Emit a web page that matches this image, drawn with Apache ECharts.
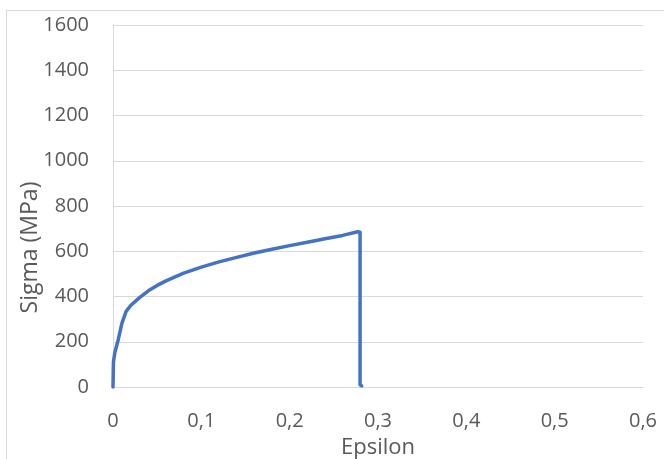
<!DOCTYPE html>
<html><head><meta charset="utf-8">
<script src="https://cdn.jsdelivr.net/npm/echarts@6/dist/echarts.min.js"></script>
<style>
html,body{margin:0;padding:0;background:#fff;overflow:hidden;}
#frame{position:absolute;left:6px;top:10px;width:700px;height:500px;border:1px solid #d9d9d9;box-sizing:border-box;}
#chart{position:absolute;left:0;top:0;width:664px;height:459px;}
</style></head>
<body>
<div id="frame"></div>
<div id="chart"></div>
<script>
const epsilon = [0, 0.0005, 0.002, 0.006, 0.010, 0.0147, 0.02, 0.03, 0.04, 0.05, 0.06, 0.08, 0.10, 0.12, 0.14, 0.16, 0.18, 0.20, 0.22, 0.24, 0.26, 0.277, 0.2797, 0.2797, 0.2815];
const sigma   = [0, 110, 150, 210, 280, 333, 360, 395, 425, 449, 469, 503, 530, 553, 573, 592, 609, 625, 640, 655, 670, 686, 684, 10, 5];
const xTicks = [0, 0.1, 0.2, 0.3, 0.4, 0.5, 0.6];
const yTicks = [0, 200, 400, 600, 800, 1000, 1200, 1400, 1600];
const xTitle = 'Epsilon';
const yTitle = 'Sigma (MPa)';

const FONT = '"Open Sans", "Noto Sans", sans-serif';
const chart = echarts.init(document.getElementById('chart'), null, {renderer: 'canvas'});
chart.setOption({
  backgroundColor: 'transparent',
  animation: false,
  grid: {left: 113, top: 25, right: 21, bottom: 72, containLabel: false, outerBoundsMode: 'none'},
  xAxis: {
    type: 'value', min: xTicks[0], max: xTicks[xTicks.length - 1], interval: 0.1,
    axisLine: {show: true, lineStyle: {color: '#d9d9d9', width: 1}},
    axisTick: {show: false},
    splitLine: {show: false},
    axisLabel: {color: '#595959', fontFamily: FONT, fontSize: 20, margin: 24,
      formatter: v => v === 0 ? '0' : v.toFixed(1).replace('.', ',')},
    name: xTitle, nameLocation: 'middle', nameGap: 50, nameMoveOverlap: false,
    nameTextStyle: {color: '#595959', fontFamily: FONT, fontSize: 22}
  },
  yAxis: {
    type: 'value', min: yTicks[0], max: yTicks[yTicks.length - 1], interval: 200,
    axisLine: {show: true, lineStyle: {color: '#d9d9d9', width: 1}},
    axisTick: {show: false},
    splitLine: {show: true, lineStyle: {color: '#d9d9d9', width: 1}},
    axisLabel: {color: '#595959', fontFamily: FONT, fontSize: 20, margin: 24,
      formatter: v => String(v)},
    name: yTitle, nameLocation: 'middle', nameGap: 71, nameMoveOverlap: false,
    nameTextStyle: {color: '#595959', fontFamily: FONT, fontSize: 23, padding: [0, 83, 0, 0]}
  },
  series: [{
    type: 'line',
    data: epsilon.map((e, i) => [e, sigma[i]]),
    showSymbol: false, symbol: 'none',
    lineStyle: {color: '#4472C4', width: 3.5, join: 'round', cap: 'round'},
    clip: false
  }]
});
</script>
</body></html>
